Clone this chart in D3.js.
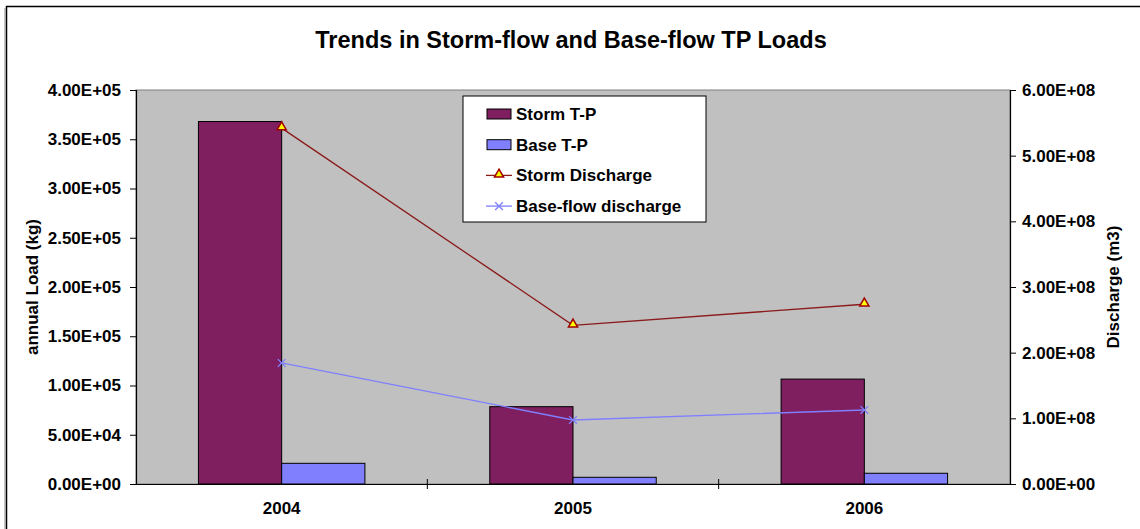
<!DOCTYPE html>
<html>
<head>
<meta charset="utf-8">
<script src="https://cdn.jsdelivr.net/npm/d3@7/dist/d3.min.js"></script>
<style>
  body { margin: 0; background: #fff; }
  text { font-family: Arial, "Liberation Sans", sans-serif; font-weight: bold; fill: #000; }
</style>
</head>
<body>
<svg id="chart" width="1140" height="529"></svg>
<script>
const years = ['2004', '2005', '2006'];
const stormTP = [368000, 78500, 106500];
const baseTP = [21000, 6800, 10900];
const stormDischarge = [542000000, 241700000, 273700000];
const baseDischarge = [184300000, 97500000, 112700000];
const leftTicks = [0, 50000, 100000, 150000, 200000, 250000, 300000, 350000, 400000];
const rightTicks = [0, 100000000, 200000000, 300000000, 400000000, 500000000, 600000000];

const svg = d3.select('#chart');
const margin = { top: 90, right: 130, bottom: 45, left: 136 };
const width = 1140 - margin.left - margin.right;   // 874
const height = 529 - margin.top - margin.bottom;    // 394

// outer frame (right/bottom edges fall outside the picture)
svg.append('rect')
  .attr('x', 6.5).attr('y', 6.5)
  .attr('width', 1150).attr('height', 560)
  .attr('fill', 'none')
  .attr('stroke', '#000')
  .attr('stroke-width', 1.5);
svg.append('line')
  .attr('x1', 5).attr('y1', 8).attr('x2', 5).attr('y2', 529)
  .attr('stroke', '#888').attr('stroke-width', 1);

svg.append('text')
  .attr('x', 571).attr('y', 48)
  .attr('text-anchor', 'middle')
  .style('font-size', '23.5px')
  .text('Trends in Storm-flow and Base-flow TP Loads');

const g = svg.append('g')
  .attr('transform', `translate(${margin.left},${margin.top})`);

const x0 = d3.scaleBand().domain(years).range([0, width]);
const x1 = d3.scaleBand().domain(['storm', 'base'])
  .range([0, x0.bandwidth()])
  .paddingOuter(0.75);
const yL = d3.scaleLinear().domain([0, 400000]).range([height, 0]);
const yR = d3.scaleLinear().domain([0, 600000000]).range([height, 0]);

// plot area
g.append('rect')
  .attr('width', width).attr('height', height)
  .attr('fill', '#c0c0c0')
  .attr('stroke', '#808080');

// bars
const barData = years.map((yr, i) => ({ yr, storm: stormTP[i], base: baseTP[i] }));
const groups = g.selectAll('.grp').data(barData).enter().append('g')
  .attr('transform', d => `translate(${x0(d.yr)},0)`);
groups.append('rect')
  .attr('x', x1('storm'))
  .attr('y', d => yL(d.storm))
  .attr('width', x1.bandwidth())
  .attr('height', d => height - yL(d.storm))
  .attr('fill', '#7f1f5f')
  .attr('stroke', '#000');
groups.append('rect')
  .attr('x', x1('base'))
  .attr('y', d => yL(d.base))
  .attr('width', x1.bandwidth())
  .attr('height', d => height - yL(d.base))
  .attr('fill', '#8080ff')
  .attr('stroke', '#000');

// axes
const fmt = d => d3.format('.2e')(d).replace(/e([+-])(\d)$/, 'E$10$2').replace('e', 'E');
const leftAxis = g.append('g')
  .call(d3.axisLeft(yL).tickValues(leftTicks).tickSize(6).tickPadding(9).tickFormat(fmt));
const rightAxis = g.append('g')
  .attr('transform', `translate(${width},0)`)
  .call(d3.axisRight(yR).tickValues(rightTicks).tickSize(6).tickPadding(6).tickFormat(fmt));
const bottomAxis = g.append('g')
  .attr('transform', `translate(0,${height})`)
  .call(d3.axisBottom(x0).tickSize(0).tickPadding(18));
[leftAxis, rightAxis, bottomAxis].forEach(a => {
  a.select('.domain').attr('stroke', '#000').attr('stroke-width', 1.2);
  a.selectAll('text').style('font-size', '17px').style('font-family', 'Arial, "Liberation Sans", sans-serif');
});

// category separator ticks on the x axis
g.selectAll('.xsep').data(years.slice(1)).enter().append('line')
  .attr('x1', d => x0(d)).attr('x2', d => x0(d))
  .attr('y1', height - 5).attr('y2', height + 5)
  .attr('stroke', '#000');

// lines
const cx = yr => x0(yr) + x0.bandwidth() / 2;
const stormPts = years.map((yr, i) => ({ yr, v: stormDischarge[i] }));
const basePts = years.map((yr, i) => ({ yr, v: baseDischarge[i] }));
const line = d3.line().x(d => cx(d.yr)).y(d => yR(d.v));

g.append('path').datum(stormPts)
  .attr('fill', 'none').attr('stroke', '#8b1a1a').attr('stroke-width', 1.3)
  .attr('d', line);
g.append('path').datum(basePts)
  .attr('fill', 'none').attr('stroke', '#7f7fff').attr('stroke-width', 1.3)
  .attr('d', line);

const tri = d3.symbol().type(d3.symbolTriangle).size(36);
g.selectAll('.tri').data(stormPts).enter().append('path')
  .attr('transform', d => `translate(${cx(d.yr)},${yR(d.v) - 1})`)
  .attr('d', tri)
  .attr('fill', '#ffff00').attr('stroke', '#a00000').attr('stroke-width', 1.5);
const cross = d3.symbol().type(d3.symbolX).size(40);
g.selectAll('.xm').data(basePts).enter().append('path')
  .attr('transform', d => `translate(${cx(d.yr)},${yR(d.v)})`)
  .attr('d', cross)
  .attr('fill', 'none').attr('stroke', '#7f7fff').attr('stroke-width', 1.3);

// axis titles
svg.append('text')
  .attr('transform', 'translate(38,287) rotate(-90)')
  .attr('text-anchor', 'middle')
  .style('font-size', '17px')
  .text('annual Load (kg)');
svg.append('text')
  .attr('transform', 'translate(1119,287) rotate(-90)')
  .attr('text-anchor', 'middle')
  .style('font-size', '17px')
  .text('Discharge (m3)');

// legend
const legend = svg.append('g').attr('transform', 'translate(463,96)');
legend.append('rect')
  .attr('width', 243).attr('height', 126)
  .attr('fill', '#fff').attr('stroke', '#000');
const items = [
  { name: 'Storm T-P', type: 'bar', color: '#7f1f5f' },
  { name: 'Base T-P', type: 'bar', color: '#8080ff' },
  { name: 'Storm Discharge', type: 'tri', color: '#8b1a1a' },
  { name: 'Base-flow discharge', type: 'x', color: '#7f7fff' }
];
items.forEach((it, i) => {
  const yy = 18 + i * 30.7;
  const row = legend.append('g').attr('transform', `translate(0,${yy})`);
  if (it.type === 'bar') {
    row.append('rect').attr('x', 24).attr('y', -5).attr('width', 24).attr('height', 10)
      .attr('fill', it.color).attr('stroke', '#000');
  } else {
    row.append('line').attr('x1', 23).attr('x2', 49).attr('y1', 0).attr('y2', 0)
      .attr('stroke', it.color).attr('stroke-width', 1.3);
    if (it.type === 'tri') {
      row.append('path').attr('transform', 'translate(36,-1)').attr('d', tri)
        .attr('fill', '#ffff00').attr('stroke', '#a00000').attr('stroke-width', 1.5);
    } else {
      row.append('path').attr('transform', 'translate(36,0)').attr('d', cross)
        .attr('fill', 'none').attr('stroke', it.color).attr('stroke-width', 1.3);
    }
  }
  row.append('text').attr('x', 53).attr('y', 0).attr('dy', '0.35em')
    .style('font-size', '17px').text(it.name);
});
</script>
</body>
</html>
